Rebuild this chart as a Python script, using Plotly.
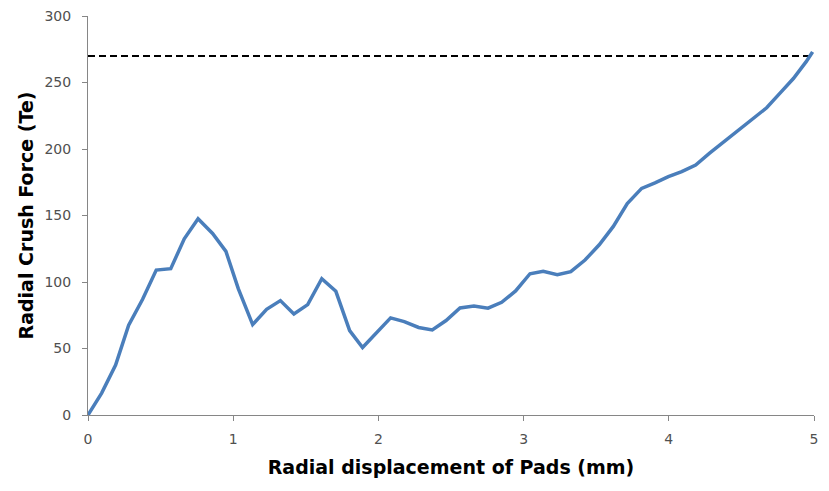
import plotly.graph_objects as go

displacement_mm = [0.0, 0.094, 0.19, 0.28, 0.376, 0.47, 0.57, 0.663, 0.758, 0.858,
                   0.95, 1.035, 1.134, 1.23, 1.325, 1.418, 1.513, 1.61, 1.707, 1.802,
                   1.891, 1.988, 2.084, 2.178, 2.277, 2.371, 2.466, 2.562, 2.658, 2.755,
                   2.849, 2.945, 3.044, 3.135, 3.232, 3.325, 3.423, 3.521, 3.618, 3.714,
                   3.813, 3.905, 3.997, 4.089, 4.185, 4.279, 4.376, 4.472, 4.571, 4.674,
                   4.766, 4.858, 4.945, 4.99]
crush_force_te = [0, 16.5, 37.5, 67.5, 87, 109, 110, 132.5, 147.5, 136.5,
                  123, 95, 68, 79.5, 86, 76, 83, 102.5, 93, 63.5,
                  50.8, 62, 73, 70.2, 65.8, 64, 71, 80.5, 82, 80.3,
                  84.7, 93.3, 106.2, 108, 105.5, 107.8, 116.5, 128, 141.8, 159,
                  170.4, 174.5, 179.2, 183, 188, 196.7, 205, 213, 221.5, 231,
                  242, 253, 265.5, 273]
limit_x = [0.0, 4.97]
limit_y = [270, 270]

x_ticks = [0, 1, 2, 3, 4, 5]
y_ticks = [0, 50, 100, 150, 200, 250, 300]

fig = go.Figure()
fig.add_trace(go.Scatter(x=limit_x, y=limit_y, mode="lines",
                         line=dict(color="black", width=2, dash="7px,4px"),
                         showlegend=False, hoverinfo="skip"))
fig.add_trace(go.Scatter(x=displacement_mm, y=crush_force_te, mode="lines",
                         line=dict(color="#4A7EBB", width=3.5),
                         showlegend=False))

font_family = "DejaVu Sans, Lato, sans-serif"
fig.update_layout(
    width=821, height=483,
    margin=dict(l=80, r=15, t=8, b=76, autoexpand=False),
    plot_bgcolor="white", paper_bgcolor="white",
    font=dict(family=font_family, color="#404040"),
    xaxis=dict(range=[0, 5], tickvals=x_ticks, showgrid=False, zeroline=False,
               showline=True, linecolor="#868686", linewidth=1,
               ticks="outside", ticklen=5, tickcolor="#868686",
               ticklabelstandoff=6, automargin=False, ticklabeloverflow="allow",
               tickfont=dict(size=14, color="#505050"),
               title=dict(text="<b>Radial displacement of Pads (mm)</b>",
                          font=dict(size=19, color="black"), standoff=14)),
    yaxis=dict(range=[0, 300], tickvals=y_ticks, showgrid=False, zeroline=False,
               showline=True, linecolor="#868686", linewidth=1,
               ticks="outside", ticklen=5, tickcolor="#868686",
               ticklabelstandoff=8, automargin=False, ticklabeloverflow="allow",
               tickfont=dict(size=14, color="#505050"),
               title=dict(text="<b>Radial Crush Force (Te)</b>",
                          font=dict(size=19, color="black"), standoff=5)),
)

fig.write_html("out.html")
